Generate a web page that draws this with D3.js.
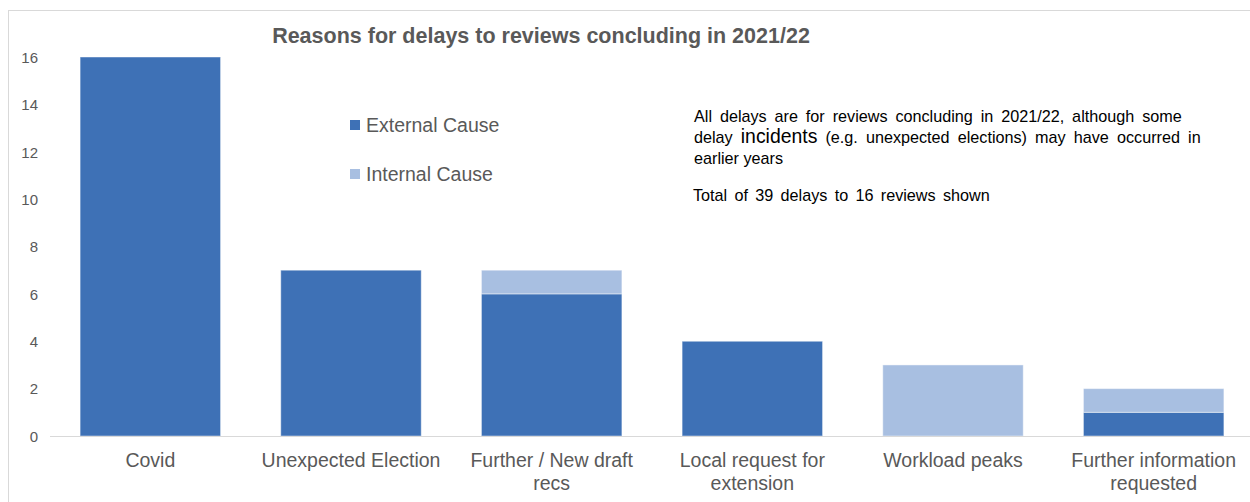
<!DOCTYPE html>
<html>
<head>
<meta charset="utf-8">
<script src="https://cdn.jsdelivr.net/npm/d3@7"></script>
<style>
  html, body { margin: 0; padding: 0; background: #fff; }
  svg { display: block; font-family: "Liberation Sans", Arial, sans-serif; }
</style>
</head>
<body>
<svg id="chart" width="1250" height="502"></svg>
<script>
// Delay counts per reason, split by cause
const categories = [
  ["Covid"],
  ["Unexpected Election"],
  ["Further / New draft", "recs"],
  ["Local request for", "extension"],
  ["Workload peaks"],
  ["Further information", "requested"]
];
const externalCause = [16, 7, 6, 4, 0, 1];
const internalCause = [0, 0, 1, 0, 3, 1];
const seriesNames = ["External Cause", "Internal Cause"];
const yTicks = [0, 2, 4, 6, 8, 10, 12, 14, 16];

const colors = { "External Cause": "#3e71b6", "Internal Cause": "#a8bfe1" };

const svg = d3.select("#chart");

// chart frame
svg.append("rect")
  .attr("x", 8.5).attr("y", 10.5)
  .attr("width", 1260).attr("height", 520)
  .attr("fill", "#fff").attr("stroke", "#d9d9d9").attr("stroke-width", 1);

const plot = { left: 50, right: 1254, top: 57, bottom: 436 };

const keys = categories.map((c, i) => i);
const x = d3.scaleBand()
  .domain(keys)
  .range([plot.left, plot.right])
  .paddingInner(0.3)
  .paddingOuter(0.15);

const y = d3.scaleLinear().domain([0, 16]).range([plot.bottom, plot.top]);

// stacked data
const rows = keys.map(i => ({
  key: i,
  "External Cause": externalCause[i],
  "Internal Cause": internalCause[i]
}));
const stack = d3.stack().keys(seriesNames)(rows);

// y axis labels
const yAxis = svg.append("g")
  .attr("transform", `translate(${plot.left - 12},0)`)
  .call(d3.axisLeft(y).tickValues(yTicks).tickSize(0).tickPadding(0));
yAxis.select(".domain").remove();
yAxis.selectAll("text")
  .attr("fill", "#595959")
  .style("font-size", "15px")
  .attr("dy", "0.35em");

// bars
svg.append("g").selectAll("g")
  .data(stack)
  .join("g")
  .attr("fill", d => colors[d.key])
  .selectAll("rect")
  .data(d => d.filter(s => s[1] - s[0] > 0))
  .join("rect")
  .attr("x", d => x(d.data.key))
  .attr("width", x.bandwidth())
  .attr("y", d => y(d[1]))
  .attr("height", d => y(d[0]) - y(d[1]))
  .attr("stroke", "rgba(255,255,255,0.45)")
  .attr("stroke-width", 1);

// baseline
svg.append("line")
  .attr("x1", plot.left).attr("x2", 1250)
  .attr("y1", plot.bottom + 0.5).attr("y2", plot.bottom + 0.5)
  .attr("stroke", "#d9d9d9").attr("stroke-width", 1);

// category labels
const xl = svg.append("g");
categories.forEach((lines, i) => {
  const cx = x(i) + x.bandwidth() / 2;
  const t = xl.append("text")
    .attr("x", cx)
    .attr("y", 467)
    .attr("text-anchor", "middle")
    .attr("fill", "#595959")
    .style("font-size", "19.5px");
  lines.forEach((ln, j) => {
    t.append("tspan")
      .attr("x", cx)
      .attr("dy", j === 0 ? 0 : 23)
      .text(ln);
  });
});

// title
svg.append("text")
  .attr("x", 541).attr("y", 43)
  .attr("text-anchor", "middle")
  .attr("fill", "#595959")
  .style("font-size", "21.5px")
  .style("font-weight", "bold")
  .text("Reasons for delays to reviews concluding in 2021/22");

// legend
const legend = svg.append("g");
seriesNames.forEach((name, i) => {
  const ly = 125 + i * 49;
  legend.append("rect")
    .attr("x", 350).attr("y", ly - 5)
    .attr("width", 10).attr("height", 10)
    .attr("fill", colors[name]);
  legend.append("text")
    .attr("x", 366).attr("y", ly)
    .attr("dy", "0.35em")
    .attr("fill", "#595959")
    .style("font-size", "19.5px")
    .text(name);
});

// notes
const note = svg.append("g").attr("fill", "#000").style("font-size", "16.2px");
note.append("text").attr("x", 694).attr("y", 122)
  .style("word-spacing", "3.4px")
  .text("All delays are for reviews concluding in 2021/22, although some");
const l2 = note.append("text").attr("x", 694).attr("y", 143)
  .style("word-spacing", "3.6px");
l2.append("tspan").text("delay ");
l2.append("tspan").style("font-size", "19.4px").text("incidents");
l2.append("tspan").text(" (e.g. unexpected elections) may have occurred in");
note.append("text").attr("x", 694).attr("y", 164).text("earlier years");
note.append("text").attr("x", 693).attr("y", 201)
  .style("word-spacing", "2.8px")
  .text("Total of 39 delays to 16 reviews shown");
</script>
</body>
</html>
